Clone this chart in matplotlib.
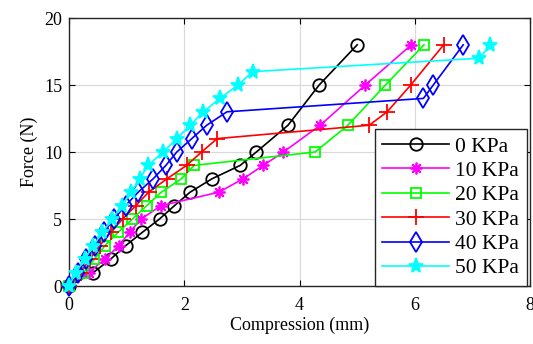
import matplotlib
matplotlib.use("Agg")
import matplotlib.pyplot as plt

# Force (N) vs compression (mm) at different chamber pressures
labels = ["0 KPa", "10 KPa", "20 KPa", "30 KPa", "40 KPa", "50 KPa"]

x_0kpa = [0, 0.42, 0.72, 0.98, 1.27, 1.57, 1.83, 2.1, 2.48, 2.97, 3.25, 3.8, 4.34, 5.0]
y_0kpa = [0, 1, 2, 3, 4, 5, 6, 7, 8, 9, 10, 12, 15, 18]

x_10kpa = [0, 0.34, 0.62, 0.86, 1.05, 1.25, 1.6, 2.6, 3.02, 3.37, 3.72, 4.36, 5.14, 5.94]
y_10kpa = [0, 1, 2, 3, 4, 5, 6, 7, 8, 9, 10, 12, 15, 18]

x_20kpa = [0, 0.25, 0.44, 0.62, 0.85, 1.1, 1.35, 1.6, 1.95, 2.17, 4.27, 4.84, 5.49, 6.16]
y_20kpa = [0, 1, 2, 3, 4, 5, 6, 7, 8, 9, 10, 12, 15, 18]

x_30kpa = [0, 0.2, 0.36, 0.53, 0.72, 0.93, 1.16, 1.38, 1.7, 2.04, 2.3, 2.57, 5.21, 5.52, 5.93, 6.5]
y_30kpa = [0, 1, 2, 3, 4, 5, 6, 7, 8, 9, 10, 11, 12, 13, 15, 18]

x_40kpa = [0, 0.15, 0.3, 0.45, 0.6, 0.78, 0.98, 1.2, 1.46, 1.68, 1.87, 2.13, 2.39, 2.74, 6.15, 6.32, 6.84]
y_40kpa = [0, 1, 2, 3, 4, 5, 6, 7, 8, 9, 10, 11, 12, 13, 14, 15, 18]

x_50kpa = [0, 0.12, 0.27, 0.42, 0.58, 0.75, 0.92, 1.08, 1.23, 1.37, 1.63, 1.87, 2.1, 2.33, 2.62, 2.93, 3.19, 7.12, 7.31]
y_50kpa = [0, 1, 2, 3, 4, 5, 6, 7, 8, 9, 10, 11, 12, 13, 14, 15, 16, 17, 18]

series = [(x_0kpa, y_0kpa), (x_10kpa, y_10kpa), (x_20kpa, y_20kpa),
          (x_30kpa, y_30kpa), (x_40kpa, y_40kpa), (x_50kpa, y_50kpa)]

colors = ["#000000", "#ff00ff", "#00ff00", "#ff0000", "#0000ff", "#00ffff"]
markers = ["o", (8, 2, 0), "s", "+", "d", "*"]
msizes = [9, 8.5, 7.5, 11, 10, 11]
hollow = [True, False, True, False, True, False]

plt.rcParams["font.family"] = ["Liberation Serif", "DejaVu Serif"]
plt.rcParams["font.size"] = 13

fig = plt.figure(figsize=(5.33, 3.44), dpi=100)
ax = fig.add_axes([0.1295, 0.1686, 0.865, 0.779])

for (xs, ys), lab, c, m, ms, h in zip(series, labels, colors, markers, msizes, hollow):
    ax.plot(xs, ys, color=c, marker=m, markersize=ms, linewidth=1.2,
            markerfacecolor="none" if h else c, markeredgecolor=c,
            markeredgewidth=1.3, label=lab, clip_on=False, zorder=3)

ax.set_xlim(0, 8)
ax.set_ylim(0, 20)
ax.set_xticks([0, 2, 4, 6, 8])
ax.set_yticks([0, 5, 10, 15, 20])
ax.set_xlabel("Compression (mm)", labelpad=2)
ax.set_ylabel("Force (N)", labelpad=4)

ax.grid(True, color="#d9d9d9", linewidth=0.8)
ax.set_axisbelow(True)
ax.tick_params(direction="in", top=True, right=True, length=4)
ax.tick_params(axis="x", pad=8)
ax.tick_params(axis="y", pad=5)
for s in ax.spines.values():
    s.set_color("#262626")
    s.set_linewidth(1.0)

leg = ax.legend(loc="lower right", bbox_to_anchor=(0.993, 0.0), fancybox=False,
                framealpha=1, edgecolor="#262626", fontsize=15.5,
                handlelength=3.1, labelspacing=0.2, borderpad=0.35,
                handletextpad=0.3, borderaxespad=0.0)
leg.get_frame().set_linewidth(1.0)

fig.savefig("out.png", dpi=100)
